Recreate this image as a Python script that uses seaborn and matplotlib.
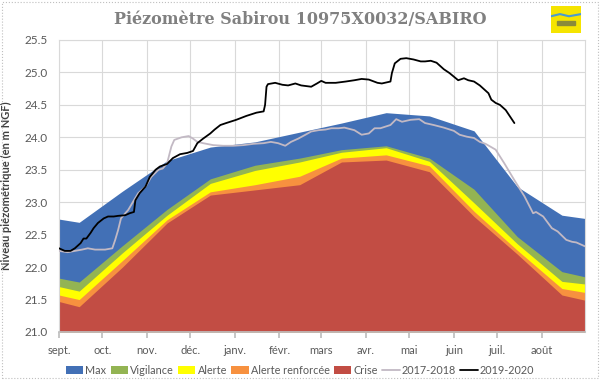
import numpy as np
import pandas as pd
import matplotlib
matplotlib.use("Agg")
import matplotlib.pyplot as plt
import matplotlib.dates as mdates
from matplotlib.patches import Rectangle, Patch
from matplotlib.lines import Line2D
import seaborn as sns

# Seuils piézométriques (valeurs au 15 de chaque mois + bords de la période)
band_dates = ["2019-09-01", "2019-09-15", "2019-10-15", "2019-11-15", "2019-12-15",
              "2020-01-15", "2020-02-15", "2020-03-15", "2020-04-15", "2020-05-15",
              "2020-06-15", "2020-07-15", "2020-08-15", "2020-08-31"]
max_lvl = [22.74, 22.69, 23.17, 23.64, 23.85, 23.93, 24.08, 24.22, 24.38, 24.33, 24.10, 23.24, 22.80, 22.75]
vigilance = [21.83, 21.77, 22.33, 22.89, 23.36, 23.57, 23.68, 23.81, 23.87, 23.68, 23.20, 22.47, 21.93, 21.85]
alerte = [21.70, 21.63, 22.22, 22.80, 23.29, 23.49, 23.62, 23.77, 23.84, 23.63, 22.99, 22.36, 21.78, 21.74]
alerte_renf = [21.57, 21.50, 22.10, 22.73, 23.16, 23.27, 23.40, 23.68, 23.73, 23.56, 22.86, 22.26, 21.67, 21.61]
crise = [21.47, 21.39, 22.00, 22.68, 23.11, 23.19, 23.27, 23.62, 23.65, 23.47, 22.78, 22.20, 21.57, 21.49]

# Chroniques : jours depuis le 1er septembre, niveau en m NGF
days_1718 = [0, 6, 11, 16, 20, 25, 32, 37, 39, 41, 43, 46, 48, 52, 55, 60, 64, 69, 72, 75,
             78, 80, 85, 90, 93, 96, 100, 107, 114, 121, 128, 135, 142, 147, 152, 157, 161,
             166, 171, 175, 180, 185, 189, 194, 198, 205, 210, 215, 219, 223, 230, 234, 238,
             244, 250, 254, 260, 267, 274, 278, 283, 288, 292, 296, 303, 309, 316, 323, 329,
             331, 336, 342, 346, 352, 356, 359, 365]
lvl_1718 = [22.25, 22.23, 22.25, 22.27, 22.29, 22.27, 22.27, 22.29, 22.42, 22.57, 22.75, 22.83,
            22.88, 23.03, 23.14, 23.24, 23.39, 23.50, 23.52, 23.60, 23.86, 23.96, 24.00, 24.02,
            23.98, 23.93, 23.91, 23.88, 23.87, 23.87, 23.88, 23.90, 23.91, 23.93, 23.91, 23.87,
            23.93, 23.98, 24.04, 24.09, 24.11, 24.12, 24.14, 24.14, 24.15, 24.11, 24.04, 24.06,
            24.14, 24.14, 24.19, 24.28, 24.24, 24.27, 24.28, 24.22, 24.19, 24.15, 24.10, 24.04,
            24.01, 23.99, 23.93, 23.90, 23.81, 23.60, 23.34, 23.09, 22.83, 22.85, 22.78, 22.60,
            22.55, 22.42, 22.39, 22.38, 22.32]

days_1920 = [0, 4, 8, 11, 15, 17, 19, 22, 24, 27, 31, 34, 38, 41, 46, 49, 52, 53, 56, 60, 63,
             67, 70, 75, 79, 84, 89, 93, 96, 100, 105, 108, 112, 116, 123, 130, 137, 142, 143,
             144, 145, 150, 155, 159, 164, 168, 175, 179, 182, 185, 192, 199, 205, 210, 215,
             221, 224, 230, 231, 233, 237, 241, 246, 251, 254, 258, 262, 267, 271, 277, 281,
             284, 288, 292, 298, 300, 303, 306, 310, 313, 316]
lvl_1920 = [22.29, 22.25, 22.25, 22.29, 22.37, 22.44, 22.44, 22.53, 22.60, 22.68, 22.75, 22.78,
            22.78, 22.79, 22.80, 22.83, 22.85, 23.03, 23.14, 23.24, 23.39, 23.50, 23.55, 23.59,
            23.68, 23.74, 23.76, 23.79, 23.91, 23.98, 24.06, 24.12, 24.19, 24.22, 24.27, 24.33,
            24.38, 24.40, 24.50, 24.78, 24.82, 24.84, 24.81, 24.80, 24.83, 24.80, 24.78, 24.83,
            24.87, 24.84, 24.84, 24.86, 24.88, 24.90, 24.89, 24.84, 24.83, 24.86, 24.99, 25.14,
            25.21, 25.22, 25.20, 25.17, 25.17, 25.18, 25.15, 25.05, 24.99, 24.88, 24.91, 24.88,
            24.86, 24.80, 24.68, 24.58, 24.53, 24.50, 24.42, 24.32, 24.22]

month_labels = ["sept.", "oct.", "nov.", "déc.", "janv.", "févr.", "mars",
                "avr.", "mai", "juin", "juil.", "août"]
y_ticks = [21.0, 21.5, 22.0, 22.5, 23.0, 23.5, 24.0, 24.5, 25.0, 25.5]

start = pd.Timestamp("2019-09-01")
end = pd.Timestamp("2020-08-31")

bands = pd.DataFrame({
    "date": pd.to_datetime(band_dates),
    "Max": max_lvl,
    "Vigilance": vigilance,
    "Alerte": alerte,
    "Alerte renforcée": alerte_renf,
    "Crise": crise,
})
serie_1718 = pd.DataFrame({"date": start + pd.to_timedelta(days_1718, unit="D"), "niveau": lvl_1718})
serie_1920 = pd.DataFrame({"date": start + pd.to_timedelta(days_1920, unit="D"), "niveau": lvl_1920})

band_colors = {
    "Max": "#4270b6",
    "Vigilance": "#93b453",
    "Alerte": "#ffff00",
    "Alerte renforcée": "#f7913f",
    "Crise": "#c24d44",
}
col_1718 = "#c2b9c4"
col_1920 = "#000000"

sns.set_theme(style="white")
plt.rcParams["font.family"] = ["Lato", "DejaVu Sans"]

fig = plt.figure(figsize=(6, 3.8), dpi=100)
ax = fig.add_axes([59 / 600, 1 - 332 / 380, 526 / 600, 292 / 380])

# bandes de seuils, de la plus haute à la plus basse
for name, color in band_colors.items():
    ax.fill_between(bands["date"], 21.0, bands[name], color=color, linewidth=0, zorder=2)

sns.lineplot(data=serie_1718, x="date", y="niveau", color=col_1718, linewidth=1.3,
             ax=ax, zorder=3, legend=False)
sns.lineplot(data=serie_1920, x="date", y="niveau", color=col_1920, linewidth=1.3,
             ax=ax, zorder=4, legend=False)

ax.set_xlim(start, end)
ax.set_ylim(21.0, 25.5)
ax.set_yticks(y_ticks)
ax.set_yticklabels([f"{v:.1f}" for v in y_ticks])

month_starts = pd.date_range(start, periods=12, freq="MS")
ax.set_xticks(month_starts)
ax.set_xticklabels(month_labels)

ax.grid(True, color="#d9d9d9", linewidth=0.8)
ax.set_axisbelow(True)
ax.set_facecolor("white")
for side in ["left", "right", "top"]:
    ax.spines[side].set_color("#d9d9d9")
    ax.spines[side].set_linewidth(0.8)
ax.spines["bottom"].set_color("#bfbfbf")

ax.tick_params(axis="x", length=4, color="#bfbfbf", pad=5, labelsize=8, labelcolor="#595959", bottom=True)
ax.tick_params(axis="y", length=0, pad=8, labelsize=8.5, labelcolor="#595959")

ax.set_xlabel("")
ax.set_ylabel("Niveau piézométrique (en m NGF)", fontsize=8, fontweight="bold", color="#404040")
ax.yaxis.set_label_coords(-0.089, 0.5)

fig.text(0.5, 1 - 19 / 380, "Piézomètre Sabirou 10975X0032/SABIRO", ha="center", va="center",
         fontsize=11.5, fontweight="bold", color="#808080", family="DejaVu Serif")

# petit logo jaune en haut à droite
logo = fig.add_axes([551 / 600, 1 - 33 / 380, 30 / 600, 27 / 380])
logo.add_patch(Rectangle((0, 0), 1, 1, color="#f5e400"))
logo.plot([0, 0.3, 0.6, 1], [0.62, 0.7, 0.62, 0.7], color="#4a9bd0", linewidth=1.5)
logo.add_patch(Rectangle((0.2, 0.3), 0.6, 0.15, color="#8a8a3a"))
logo.set_xlim(0, 1)
logo.set_ylim(0, 1)
logo.axis("off")

handles = [Patch(facecolor=band_colors[k], edgecolor="none", label=k) for k in band_colors]
handles += [Line2D([0], [0], color=col_1718, linewidth=1.3, label="2017-2018"),
            Line2D([0], [0], color=col_1920, linewidth=1.3, label="2019-2020")]
fig.legend(handles=handles, loc="center", bbox_to_anchor=(300 / 600, 1 - 370 / 380), ncol=7,
           frameon=False, fontsize=7.8, handlelength=1.6, handleheight=0.7,
           handletextpad=0.2, columnspacing=0.4, labelcolor="#595959")

# bordure pointillée du cadre
fig.add_artist(Rectangle((0.003, 0.004), 0.993, 0.992, transform=fig.transFigure, fill=False,
                         edgecolor="#bfbfbf", linestyle=":", linewidth=0.8))

fig.savefig("out.png", dpi=100)
